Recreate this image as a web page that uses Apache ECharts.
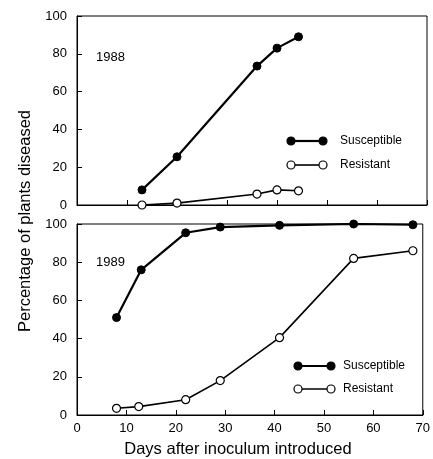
<!DOCTYPE html>
<html>
<head>
<meta charset="utf-8">
<script src="https://cdn.jsdelivr.net/npm/echarts@6/dist/echarts.min.js"></script>
<style>
  html, body { margin: 0; padding: 0; background: #fff; }
  #chart { width: 433px; height: 459px; }
</style>
</head>
<body>
<div id="chart"></div>
<script>
// 1988 panel
var days1988 = [13, 20, 36, 40, 44.3];
var susceptible1988 = [8, 25.5, 73.5, 83, 89];
var resistant1988 = [0, 1, 5.8, 8, 7.5];

// 1989 panel
var daysSus1989 = [8, 13, 22, 29, 41, 56, 68];
var susceptible1989 = [51, 76, 95.4, 98.4, 99.3, 100, 99.6];
var daysRes1989 = [8, 12.5, 22, 29, 41, 56, 68];
var resistant1989 = [3.5, 4.4, 8, 18, 40.5, 82, 86];

var xTicks = [0, 10, 20, 30, 40, 50, 60, 70];
var yTicks = [0, 20, 40, 60, 80, 100];

var font = "Liberation Sans";
var myChart = echarts.init(document.getElementById("chart"));

function pairs(xs, ys) {
  return xs.map(function (x, i) { return [x, ys[i]]; });
}

function xAxisFor(gridIndex, showLabels) {
  return {
    type: "value",
    gridIndex: gridIndex,
    min: xTicks[0],
    max: xTicks[xTicks.length - 1],
    interval: 10,
    axisLine: { lineStyle: { color: "#000", width: 1 } },
    axisTick: { inside: true, length: 5, lineStyle: { color: "#000" } },
    axisLabel: { show: showLabels, color: "#000", fontFamily: font, fontSize: 13, margin: 7 },
    splitLine: { show: false },
  };
}

function yAxisFor(gridIndex) {
  return {
    type: "value",
    gridIndex: gridIndex,
    min: yTicks[0],
    max: yTicks[yTicks.length - 1],
    interval: 20,
    axisLine: { show: true, lineStyle: { color: "#000", width: 1 } },
    axisTick: { show: true, inside: true, length: 5, lineStyle: { color: "#000" } },
    axisLabel: { color: "#000", fontFamily: font, fontSize: 13, margin: 10 },
    splitLine: { show: false },
  };
}

function sus(name, data, idx) {
  return {
    name: name, type: "line", xAxisIndex: idx, yAxisIndex: idx, data: data,
    symbol: "circle", symbolSize: 8, animation: false,
    lineStyle: { color: "#000", width: 2.2 },
    itemStyle: { color: "#000", borderColor: "#000", borderWidth: 1 },
  };
}

function res(name, data, idx) {
  return {
    name: name, type: "line", xAxisIndex: idx, yAxisIndex: idx, data: data,
    symbol: "circle", symbolSize: 8, animation: false,
    lineStyle: { color: "#000", width: 1.6 },
    itemStyle: { color: "#fff", borderColor: "#000", borderWidth: 1.2 },
  };
}

// legend sample: line with a marker at each end
function legendEntry(x1, x2, y, filled, label, textX) {
  var dot = function (cx) {
    return {
      type: "circle", shape: { cx: cx, cy: y, r: 4 },
      style: { fill: filled ? "#000" : "#fff", stroke: "#000", lineWidth: 1.2 },
      z: 10,
    };
  };
  return [
    { type: "line", shape: { x1: x1, y1: y, x2: x2, y2: y },
      style: { stroke: "#000", lineWidth: filled ? 2.2 : 1.6 }, z: 9 },
    dot(x1), dot(x2),
    { type: "text", x: textX, y: y,
      style: { text: label, fill: "#000", font: "12px " + font, textVerticalAlign: "middle" } },
  ];
}

var graphics = []
  .concat(legendEntry(291, 323, 141, true, "Susceptible", 340))
  .concat(legendEntry(291, 323, 165, false, "Resistant", 340))
  .concat(legendEntry(298, 331, 366, true, "Susceptible", 343))
  .concat(legendEntry(298, 331, 389, false, "Resistant", 343))
  .concat([
    { type: "text", x: 96, y: 57,
      style: { text: "1988", fill: "#000", font: "13px " + font, textVerticalAlign: "middle" } },
    { type: "text", x: 96, y: 262,
      style: { text: "1989", fill: "#000", font: "13px " + font, textVerticalAlign: "middle" } },
    { type: "text", x: 238, y: 449,
      style: { text: "Days after inoculum introduced", fill: "#000", font: "16.5px " + font,
        textAlign: "center", textVerticalAlign: "middle" } },
    { type: "text", x: 25, y: 221, rotation: Math.PI / 2,
      style: { text: "Percentage of plants diseased", fill: "#000", font: "16.5px " + font,
        textAlign: "center", textVerticalAlign: "middle" } },
  ]);

var option = {
  backgroundColor: "#fff",
  animation: false,
  grid: [
    { left: 77, top: 16, width: 350, height: 189, show: true, borderColor: "#000", borderWidth: 1 },
    { left: 77, top: 224, width: 350, height: 191, show: true, borderColor: "#000", borderWidth: 1 },
  ],
  xAxis: [xAxisFor(0, false), xAxisFor(1, true)],
  yAxis: [yAxisFor(0), yAxisFor(1)],
  series: [
    sus("Susceptible 1988", pairs(days1988, susceptible1988), 0),
    res("Resistant 1988", pairs(days1988, resistant1988), 0),
    sus("Susceptible 1989", pairs(daysSus1989, susceptible1989), 1),
    res("Resistant 1989", pairs(daysRes1989, resistant1989), 1),
  ],
  graphic: graphics,
};

myChart.setOption(option);
</script>
</body>
</html>
